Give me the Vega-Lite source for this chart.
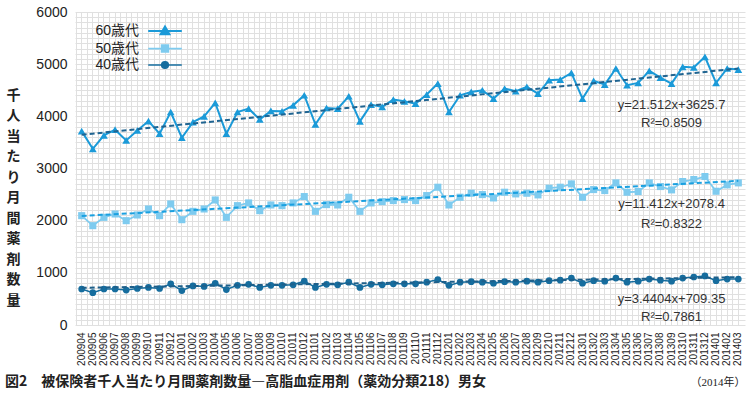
{
"$schema": "https://vega.github.io/schema/vega-lite/v6.json",
"width": 670, "height": 313,
"autosize": {"type": "none"},
"padding": {"left": 75, "top": 12, "right": 8, "bottom": 71},
"background": "white",
"config": {"view": {"stroke": null}, "font": "Liberation Sans"},
"title": {"text": "図2　被保険者千人当たり月間薬剤数量―高脂血症用剤（薬効分類218）男女", "orient": "bottom", "anchor": "start", "frame": "group", "dx": -70, "offset": -12, "font": "Noto Sans CJK JP", "fontSize": 14, "fontWeight": "bold", "color": "#222"},
"datasets": {
"obs": [
{"month":"200904","age":"60歳代","value":3717},{"month":"200905","age":"60歳代","value":3378},{"month":"200906","age":"60歳代","value":3635},{"month":"200907","age":"60歳代","value":3744},{"month":"200908","age":"60歳代","value":3538},{"month":"200909","age":"60歳代","value":3730},{"month":"200910","age":"60歳代","value":3910},{"month":"200911","age":"60歳代","value":3667},{"month":"200912","age":"60歳代","value":4083},{"month":"201001","age":"60歳代","value":3590},{"month":"201002","age":"60歳代","value":3890},{"month":"201003","age":"60歳代","value":4000},{"month":"201004","age":"60歳代","value":4256},{"month":"201005","age":"60歳代","value":3667},{"month":"201006","age":"60歳代","value":4083},{"month":"201007","age":"60歳代","value":4147},{"month":"201008","age":"60歳代","value":3942},{"month":"201009","age":"60歳代","value":4103},{"month":"201010","age":"60歳代","value":4096},{"month":"201011","age":"60歳代","value":4211},{"month":"201012","age":"60歳代","value":4404},{"month":"201101","age":"60歳代","value":3846},{"month":"201102","age":"60歳代","value":4160},{"month":"201103","age":"60歳代","value":4147},{"month":"201104","age":"60歳代","value":4385},{"month":"201105","age":"60歳代","value":3904},{"month":"201106","age":"60歳代","value":4225},{"month":"201107","age":"60歳代","value":4180},{"month":"201108","age":"60歳代","value":4321},{"month":"201109","age":"60歳代","value":4288},{"month":"201110","age":"60歳代","value":4244},{"month":"201111","age":"60歳代","value":4417},{"month":"201112","age":"60歳代","value":4628},{"month":"201201","age":"60歳代","value":4083},{"month":"201202","age":"60歳代","value":4404},{"month":"201203","age":"60歳代","value":4468},{"month":"201204","age":"60歳代","value":4500},{"month":"201205","age":"60歳代","value":4340},{"month":"201206","age":"60歳代","value":4532},{"month":"201207","age":"60歳代","value":4481},{"month":"201208","age":"60歳代","value":4564},{"month":"201209","age":"60歳代","value":4436},{"month":"201210","age":"60歳代","value":4692},{"month":"201211","age":"60歳代","value":4705},{"month":"201212","age":"60歳代","value":4833},{"month":"201301","age":"60歳代","value":4340},{"month":"201302","age":"60歳代","value":4679},{"month":"201303","age":"60歳代","value":4609},{"month":"201304","age":"60歳代","value":4917},{"month":"201305","age":"60歳代","value":4596},{"month":"201306","age":"60歳代","value":4641},{"month":"201307","age":"60歳代","value":4872},{"month":"201308","age":"60歳代","value":4744},{"month":"201309","age":"60歳代","value":4628},{"month":"201310","age":"60歳代","value":4949},{"month":"201311","age":"60歳代","value":4936},{"month":"201312","age":"60歳代","value":5141},{"month":"201401","age":"60歳代","value":4641},{"month":"201402","age":"60歳代","value":4917},{"month":"201403","age":"60歳代","value":4897},
{"month":"200904","age":"50歳代","value":2096},{"month":"200905","age":"50歳代","value":1904},{"month":"200906","age":"50歳代","value":2064},{"month":"200907","age":"50歳代","value":2128},{"month":"200908","age":"50歳代","value":2000},{"month":"200909","age":"50歳代","value":2109},{"month":"200910","age":"50歳代","value":2224},{"month":"200911","age":"50歳代","value":2096},{"month":"200912","age":"50歳代","value":2321},{"month":"201001","age":"50歳代","value":2019},{"month":"201002","age":"50歳代","value":2179},{"month":"201003","age":"50歳代","value":2224},{"month":"201004","age":"50歳代","value":2397},{"month":"201005","age":"50歳代","value":2064},{"month":"201006","age":"50歳代","value":2288},{"month":"201007","age":"50歳代","value":2340},{"month":"201008","age":"50歳代","value":2192},{"month":"201009","age":"50歳代","value":2301},{"month":"201010","age":"50歳代","value":2288},{"month":"201011","age":"50歳代","value":2340},{"month":"201012","age":"50歳代","value":2462},{"month":"201101","age":"50歳代","value":2179},{"month":"201102","age":"50歳代","value":2308},{"month":"201103","age":"50歳代","value":2301},{"month":"201104","age":"50歳代","value":2449},{"month":"201105","age":"50歳代","value":2179},{"month":"201106","age":"50歳代","value":2340},{"month":"201107","age":"50歳代","value":2365},{"month":"201108","age":"50歳代","value":2385},{"month":"201109","age":"50歳代","value":2404},{"month":"201110","age":"50歳代","value":2385},{"month":"201111","age":"50歳代","value":2481},{"month":"201112","age":"50歳代","value":2641},{"month":"201201","age":"50歳代","value":2301},{"month":"201202","age":"50歳代","value":2449},{"month":"201203","age":"50歳代","value":2526},{"month":"201204","age":"50歳代","value":2500},{"month":"201205","age":"50歳代","value":2436},{"month":"201206","age":"50歳代","value":2545},{"month":"201207","age":"50歳代","value":2513},{"month":"201208","age":"50歳代","value":2526},{"month":"201209","age":"50歳代","value":2494},{"month":"201210","age":"50歳代","value":2622},{"month":"201211","age":"50歳代","value":2641},{"month":"201212","age":"50歳代","value":2705},{"month":"201301","age":"50歳代","value":2449},{"month":"201302","age":"50歳代","value":2596},{"month":"201303","age":"50歳代","value":2577},{"month":"201304","age":"50歳代","value":2724},{"month":"201305","age":"50歳代","value":2545},{"month":"201306","age":"50歳代","value":2558},{"month":"201307","age":"50歳代","value":2724},{"month":"201308","age":"50歳代","value":2654},{"month":"201309","age":"50歳代","value":2590},{"month":"201310","age":"50歳代","value":2750},{"month":"201311","age":"50歳代","value":2788},{"month":"201312","age":"50歳代","value":2846},{"month":"201401","age":"50歳代","value":2564},{"month":"201402","age":"50歳代","value":2686},{"month":"201403","age":"50歳代","value":2724},
{"month":"200904","age":"40歳代","value":690},{"month":"200905","age":"40歳代","value":620},{"month":"200906","age":"40歳代","value":690},{"month":"200907","age":"40歳代","value":690},{"month":"200908","age":"40歳代","value":670},{"month":"200909","age":"40歳代","value":700},{"month":"200910","age":"40歳代","value":720},{"month":"200911","age":"40歳代","value":700},{"month":"200912","age":"40歳代","value":790},{"month":"201001","age":"40歳代","value":660},{"month":"201002","age":"40歳代","value":750},{"month":"201003","age":"40歳代","value":740},{"month":"201004","age":"40歳代","value":800},{"month":"201005","age":"40歳代","value":680},{"month":"201006","age":"40歳代","value":760},{"month":"201007","age":"40歳代","value":780},{"month":"201008","age":"40歳代","value":720},{"month":"201009","age":"40歳代","value":760},{"month":"201010","age":"40歳代","value":760},{"month":"201011","age":"40歳代","value":770},{"month":"201012","age":"40歳代","value":840},{"month":"201101","age":"40歳代","value":720},{"month":"201102","age":"40歳代","value":780},{"month":"201103","age":"40歳代","value":770},{"month":"201104","age":"40歳代","value":820},{"month":"201105","age":"40歳代","value":720},{"month":"201106","age":"40歳代","value":780},{"month":"201107","age":"40歳代","value":770},{"month":"201108","age":"40歳代","value":790},{"month":"201109","age":"40歳代","value":790},{"month":"201110","age":"40歳代","value":790},{"month":"201111","age":"40歳代","value":820},{"month":"201112","age":"40歳代","value":870},{"month":"201201","age":"40歳代","value":760},{"month":"201202","age":"40歳代","value":820},{"month":"201203","age":"40歳代","value":830},{"month":"201204","age":"40歳代","value":820},{"month":"201205","age":"40歳代","value":800},{"month":"201206","age":"40歳代","value":830},{"month":"201207","age":"40歳代","value":820},{"month":"201208","age":"40歳代","value":840},{"month":"201209","age":"40歳代","value":820},{"month":"201210","age":"40歳代","value":850},{"month":"201211","age":"40歳代","value":860},{"month":"201212","age":"40歳代","value":900},{"month":"201301","age":"40歳代","value":800},{"month":"201302","age":"40歳代","value":850},{"month":"201303","age":"40歳代","value":840},{"month":"201304","age":"40歳代","value":900},{"month":"201305","age":"40歳代","value":820},{"month":"201306","age":"40歳代","value":840},{"month":"201307","age":"40歳代","value":880},{"month":"201308","age":"40歳代","value":860},{"month":"201309","age":"40歳代","value":840},{"month":"201310","age":"40歳代","value":900},{"month":"201311","age":"40歳代","value":920},{"month":"201312","age":"40歳代","value":940},{"month":"201401","age":"40歳代","value":850},{"month":"201402","age":"40歳代","value":880},{"month":"201403","age":"40歳代","value":880}
],
"trend": [
{"age":"60歳代","month":"200904","value":3647},{"age":"60歳代","month":"201403","value":4916},
{"age":"50歳代","month":"200904","value":2090},{"age":"50歳代","month":"201403","value":2763},
{"age":"40歳代","month":"200904","value":713},{"age":"40歳代","month":"201403","value":916}
],
"notes": [
{"month":"201309","value":4212,"label":"y=21.512x+3625.7"},
{"month":"201309","value":3865,"label":"R²=0.8509"},
{"month":"201309","value":2327,"label":"y=11.412x+2078.4"},
{"month":"201309","value":1942,"label":"R²=0.8322"},
{"month":"201309","value":500,"label":"y=3.4404x+709.35"},
{"month":"201309","value":154,"label":"R²=0.7861"}
]
},
"encoding": {
"x": {"field": "month", "type": "ordinal", "bandPosition": 0.5, "scale": {"type": "band", "paddingInner": 0, "paddingOuter": 0.1}, "axis": null},
"y": {"field": "value", "type": "quantitative", "scale": {"domain": [0, 6000], "nice": false},
 "axis": {"orient": "left", "tickCount": 60, "grid": true, "gridColor": "#e0e0e0", "gridWidth": 1, "domain": false, "ticks": false, "labelOverlap": false,
  "labelExpr": "datum.value % 1000 === 0 ? '' + datum.value : ''", "labelFont": "Liberation Sans", "labelFontSize": 14, "labelColor": "#222", "labelPadding": 8,
  "title": ["千","人","当","た","り","月","間","薬","剤","数","量"], "titleAngle": 0, "titleX": -62, "titleY": 76, "titleAlign": "center", "titleBaseline": "top",
  "titleFont": "Noto Sans CJK JP", "titleFontSize": 14, "titleFontWeight": "bold", "titleLineHeight": 20.5, "titleColor": "#222"}}
},
"layer": [
{"data": {"name": "obs"}, "mark": {"type": "line"},
 "encoding": {
  "x": {"field": "month", "type": "ordinal", "bandPosition": 0.5, "axis": {"orient": "top", "bandPosition": 0, "grid": true, "gridColor": "#e0e0e0", "labels": false, "ticks": false, "domain": false, "title": null}},
  "color": {"field": "age", "type": "nominal", "scale": {"domain": ["60歳代","50歳代","40歳代"], "range": ["#1b9ad8","#7ecbef","#166d9e"]},
   "legend": {"orient": "none", "legendX": 81, "legendY": 10, "title": null, "symbolSize": 256, "symbolType": "circle", "labelAlign": "right", "labelOffset": -35, "labelFontSize": 14, "labelFont": "Liberation Sans, Noto Sans CJK JP", "labelColor": "#222", "rowPadding": 0.5, "padding": 0,
    "encode": {"symbols": {"update": {"shape": {"signal": "datum.value === '60歳代' ? 'M-2.1,0H2.1M0,-0.55L0.55,0.4H-0.55Z' : datum.value === '50歳代' ? 'M-2.1,0H2.1M-0.42,-0.42H0.42V0.42H-0.42Z' : 'M-2.1,0H2.1M-0.42,0A0.42,0.42 0 1,0 0.42,0A0.42,0.42 0 1,0 -0.42,0Z'"}, "strokeWidth": {"value": 2}, "fill": {"scale": "color", "field": "value"}, "stroke": {"scale": "color", "field": "value"}, "opacity": {"value": 1}}}}}},
  "strokeWidth": {"field": "age", "type": "nominal", "scale": {"domain": ["60歳代","50歳代","40歳代"], "range": [2, 1.5, 2]}, "legend": null}
 }},
{"data": {"name": "obs"}, "transform": [{"filter": "datum.age === '60歳代'"}], "mark": {"type": "point", "shape": "triangle-up", "filled": true, "opacity": 1, "size": 60},
 "encoding": {
  "x": {"field": "month", "type": "ordinal", "bandPosition": 0.5, "axis": {"orient": "bottom", "bandPosition": 0.5, "grid": true, "gridColor": "#e0e0e0", "ticks": false, "domain": false, "labelAngle": -90, "labelFont": "Liberation Sans", "labelFontSize": 10, "labelColor": "#222", "labelPadding": 7,
   "title": "（2014年）", "titleX": 670, "titleY": 57, "titleAlign": "right", "titleBaseline": "middle", "titleFont": "Liberation Serif, Noto Sans CJK JP", "titleFontSize": 11, "titleFontWeight": "normal", "titleColor": "#222"}},
  "color": {"field": "age", "type": "nominal"}
 }},
{"data": {"name": "obs"}, "transform": [{"filter": "datum.age === '50歳代'"}], "mark": {"type": "point", "shape": "square", "filled": true, "opacity": 1, "size": 50},
 "encoding": {"color": {"field": "age", "type": "nominal"}}},
{"data": {"name": "obs"}, "transform": [{"filter": "datum.age === '40歳代'"}], "mark": {"type": "point", "shape": "circle", "filled": true, "opacity": 1, "size": 45},
 "encoding": {"color": {"field": "age", "type": "nominal"}}},
{"data": {"name": "trend"}, "mark": {"type": "line", "strokeDash": [5, 3], "strokeWidth": 2},
 "encoding": {
  "stroke": {"field": "age", "type": "nominal", "scale": {"domain": ["60歳代","50歳代","40歳代"], "range": ["#1f6491","#1aa0e0","#1d5f8a"]}, "legend": null}
 }},
{"data": {"name": "notes"}, "mark": {"type": "text", "font": "Liberation Sans", "fontSize": 13, "color": "#333", "align": "center", "baseline": "middle"},
 "encoding": {"text": {"field": "label"}}}
],
"resolve": {"axis": {"x": "independent"}}
}
